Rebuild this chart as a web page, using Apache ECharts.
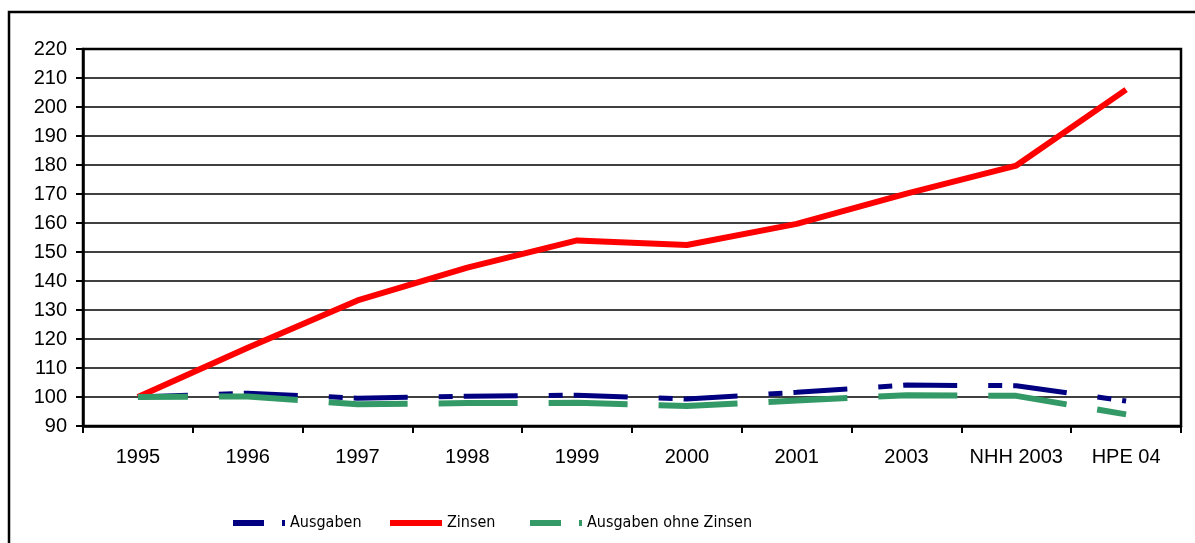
<!DOCTYPE html>
<html>
<head>
<meta charset="utf-8">
<script src="https://cdn.jsdelivr.net/npm/echarts@6/dist/echarts.min.js"></script>
<style>
html,body{margin:0;padding:0;background:#fff;}
#chart{width:1195px;height:543px;}
</style>
</head>
<body>
<div id="chart"></div>
<script>
const categories = ['1995','1996','1997','1998','1999','2000','2001','2003','NHH 2003','HPE 04'];
const ausgaben = [100, 101.3, 99.6, 100.3, 100.6, 99.3, 101.6, 104.1, 103.9, 98.6];
const zinsen = [100, 117, 133.3, 144.6, 154, 152.4, 159.7, 170.1, 179.8, 206];
const ausgabenOhneZinsen = [100, 100.2, 97.5, 97.9, 98, 96.9, 98.8, 100.6, 100.4, 94];
const seriesNames = ['Ausgaben', 'Zinsen', 'Ausgaben ohne Zinsen'];

const chart = echarts.init(document.getElementById('chart'), null, {renderer: 'canvas'});
const labelFont = "'Liberation Sans', Arial, sans-serif";
const legendFont = "'Liberation Sans Narrow', 'Arial Narrow', 'DejaVu Sans Condensed', sans-serif";

function legendFor(name, left, color, dash) {
  return {
    left: left, top: 510,
    itemWidth: 52, itemHeight: 8,
    textStyle: {fontFamily: legendFont, fontSize: 16, color: '#000'},
    itemStyle: {opacity: 0},
    data: [{
      name: name,
      itemStyle: {opacity: 0},
      lineStyle: {width: 6, type: dash, dashOffset: 0, color: color, cap: 'butt'}
    }]
  };
}

chart.setOption({
  animation: false,
  backgroundColor: '#ffffff',
  graphic: [{
    type: 'rect',
    shape: {x: 9, y: 12, width: 1300, height: 700},
    style: {fill: 'none', stroke: '#000', lineWidth: 2.5},
    silent: true
  }],
  grid: {
    left: 83, right: 14, top: 49, bottom: 117,
    show: true, borderColor: '#000', borderWidth: 2.5, backgroundColor: 'transparent'
  },
  legend: [
    legendFor(seriesNames[0], 225, '#000080', [31, 18, 3, 10]),
    legendFor(seriesNames[1], 382, '#ff0000', 'solid'),
    legendFor(seriesNames[2], 522, '#339966', [31, 18, 3, 10])
  ],
  xAxis: {
    type: 'category',
    data: categories,
    boundaryGap: true,
    axisLine: {lineStyle: {color: '#000', width: 2.5}},
    axisTick: {show: true, length: 7, lineStyle: {color: '#000', width: 2}, alignWithLabel: false},
    axisLabel: {color: '#000', fontFamily: labelFont, fontSize: 20, margin: 21, interval: 0},
    splitLine: {show: false}
  },
  yAxis: {
    type: 'value',
    min: 90, max: 220, interval: 10,
    axisLine: {show: true, lineStyle: {color: '#000', width: 2.5}},
    axisTick: {show: true, length: 7, lineStyle: {color: '#000', width: 2}},
    axisLabel: {color: '#000', fontFamily: labelFont, fontSize: 20, margin: 16},
    splitLine: {show: true, lineStyle: {color: '#000', width: 1.6}}
  },
  series: [
    {
      name: seriesNames[0], type: 'line', data: ausgaben,
      symbol: 'none', showSymbol: false,
      lineStyle: {color: '#000080', width: 5, type: [54, 31, 14, 11], dashOffset: 4, cap: 'butt'},
      itemStyle: {color: '#000080'}
    },
    {
      name: seriesNames[1], type: 'line', data: zinsen,
      symbol: 'none', showSymbol: false,
      lineStyle: {color: '#ff0000', width: 6, type: 'solid'},
      itemStyle: {color: '#ff0000'}
    },
    {
      name: seriesNames[2], type: 'line', data: ausgabenOhneZinsen,
      symbol: 'none', showSymbol: false,
      lineStyle: {color: '#339966', width: 6, type: [79, 31], dashOffset: 29, cap: 'butt'},
      itemStyle: {color: '#339966'}
    }
  ]
});
</script>
</body>
</html>
